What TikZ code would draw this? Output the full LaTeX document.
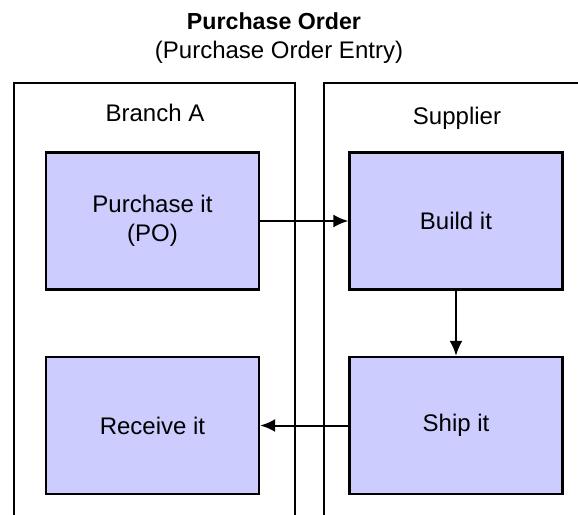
\documentclass[tikz,border=0pt]{standalone}
\usepackage{fontspec}
\setmainfont{Liberation Sans}
\usetikzlibrary{arrows.meta}
\definecolor{boxfill}{RGB}{204,204,255}
\tikzset{
  task/.style={draw=black,fill=boxfill,line width=1.2pt,minimum width=106.5pt,
    minimum height=68.5pt,align=center,font=\fontsize{12}{14.5}\selectfont},
  flow/.style={-{Latex[length=7.5pt,width=6.5pt]},line width=1pt}
}

\begin{document}
\begin{tikzpicture}[x=0.5pt,y=-0.5pt]
   \useasboundingbox (0,0) rectangle (578,514);
   \node[font=\fontsize{11.6}{14}\selectfont\bfseries] (title) at (274,21) {Purchase Order};
   \node[font=\fontsize{12}{14.5}\selectfont] (subtitle) at (279,52) {(Purchase Order Entry)};
   % lanes
   \draw[line width=1.3pt] (14,530) -- (14,83) -- (295,83) -- (295,530);
   \draw[line width=1.3pt] (324,530) -- (324,83) -- (600,83);
   \node[font=\fontsize{12}{14.5}\selectfont] (branch) at (155,113) {Branch A};
   \node[font=\fontsize{12}{14.5}\selectfont] (supplier) at (457,118) {Supplier};
   % tasks
   \node[task] (po) at (152.5,221) {Purchase it\\(PO)};
   \node[task] (build) at (456,221) {Build it};
   \node[task] (receive) at (152.5,425.5) {Receive it};
   \node[task] (ship) at (456,425.5) {Ship it};
   \draw[flow] (po.east) -- (build.west);
   \draw[flow] (build.south) -- (ship.north);
   \draw[flow] (ship.west) -- (receive.east);
\end{tikzpicture}
\end{document}
